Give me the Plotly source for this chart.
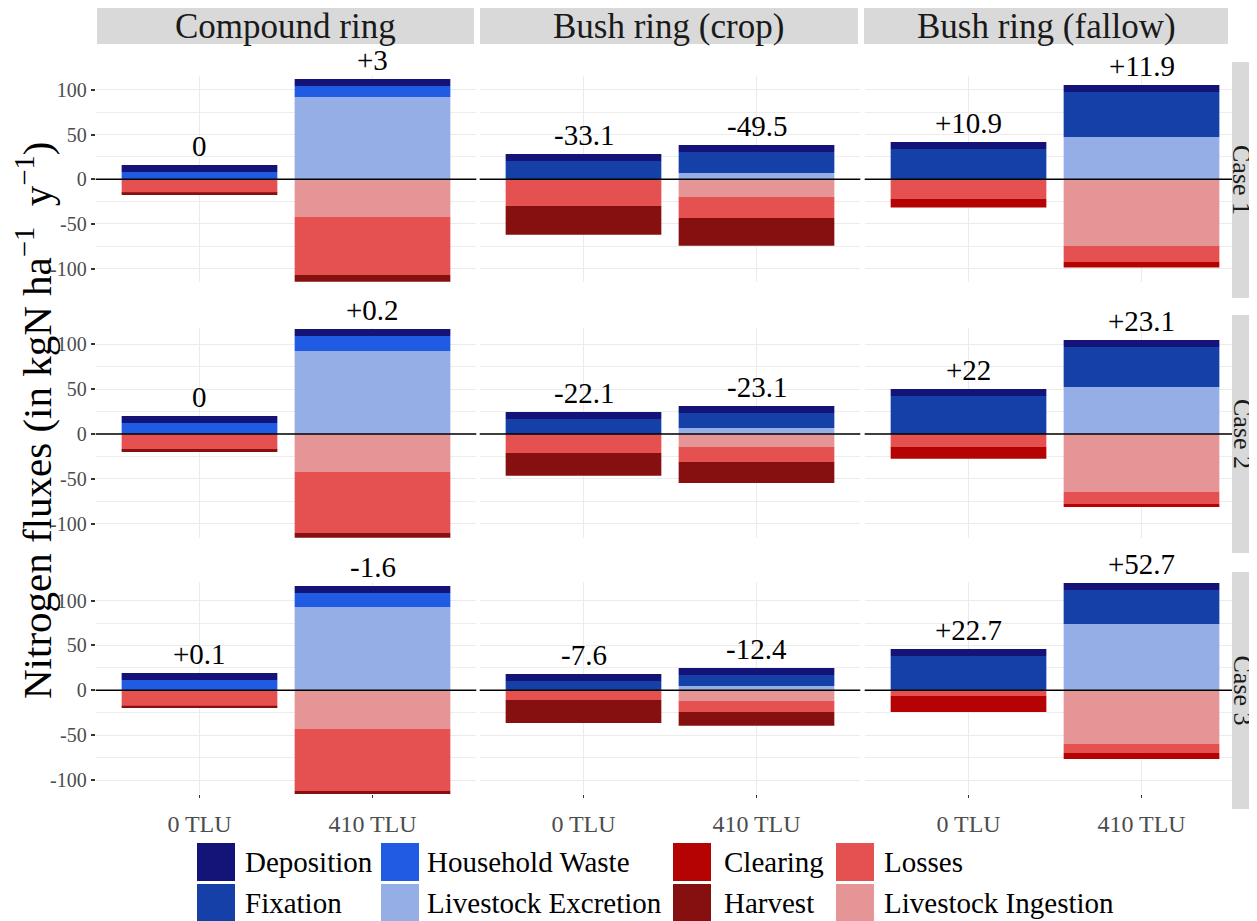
import plotly.graph_objects as go
from plotly.subplots import make_subplots

PAGE_W, PAGE_H = 1257, 921
OFF = 8  # browser body margin
W, H = PAGE_W - OFF, PAGE_H - OFF
FONT = "Liberation Serif"

cases = ["Case 1", "Case 2", "Case 3"]
rings = ["Compound ring", "Bush ring (crop)", "Bush ring (fallow)"]
tlu = ["0 TLU", "410 TLU"]

# values[case][ring] = [0 TLU, 410 TLU]  (kgN ha-1 y-1)
deposition = [
    [[7.8, 7.8], [7.8, 7.8], [7.8, 7.8]],
    [[7.8, 7.8], [7.8, 7.8], [7.8, 7.8]],
    [[7.8, 7.8], [7.8, 7.8], [7.8, 7.8]],
]
fixation = [
    [[0, 0], [20.5, 23.5], [34.0, 50.4]],
    [[0, 0], [16.7, 16.7], [42.3, 44.5]],
    [[0, 0], [10.4, 12.3], [38.3, 37.9]],
]
household_waste = [
    [[8.2, 12.3], [0, 0], [0, 0]],
    [[12.2, 16.7], [0, 0], [0, 0]],
    [[11.5, 15.6], [0, 0], [0, 0]],
]
livestock_excretion = [
    [[0, 92.2], [0, 7.1], [0, 47.4]],
    [[0, 92.4], [0, 6.7], [0, 52.3]],
    [[0, 92.9], [0, 4.8], [0, 74.0]],
]
livestock_ingestion = [
    [[0, -42.2], [0, -19.8], [0, -74.6]],
    [[0, -42.3], [0, -14.5], [0, -64.6]],
    [[0, -43.1], [0, -11.9], [0, -59.8]],
]
losses = [
    [[-15.3, -65.0], [-29.9, -23.5], [-22.0, -17.9]],
    [[-17.8, -67.9], [-21.2, -16.7], [-14.5, -13.4]],
    [[-17.5, -69.1], [-10.8, -12.3], [-6.3, -10.0]],
]
harvest = [
    [[-2.2, -7.5], [-32.1, -31.0], [0, 0]],
    [[-2.2, -7.8], [-25.2, -23.4], [0, 0]],
    [[-2.2, -7.8], [-25.6, -15.2], [0, 0]],
]
clearing = [
    [[0, 0], [0, 0], [-9.7, -6.3]],
    [[0, 0], [0, 0], [-13.0, -3.3]],
    [[0, 0], [0, 0], [-17.8, -6.7]],
]
balance_labels = [
    [["0", "+3"], ["-33.1", "-49.5"], ["+10.9", "+11.9"]],
    [["0", "+0.2"], ["-22.1", "-23.1"], ["+22", "+23.1"]],
    [["+0.1", "-1.6"], ["-7.6", "-12.4"], ["+22.7", "+52.7"]],
]

# stacking order: first trace sits next to zero
flux_series = [
    ("Livestock Excretion", livestock_excretion, "#95aee5"),
    ("Household Waste", household_waste, "#1f5be3"),
    ("Fixation", fixation, "#1440a8"),
    ("Deposition", deposition, "#141478"),
    ("Livestock Ingestion", livestock_ingestion, "#e59595"),
    ("Losses", losses, "#e55151"),
    ("Harvest", harvest, "#860f10"),
    ("Clearing", clearing, "#b50303"),
]
colors = {n: c for n, _, c in flux_series}
legend_cols = [["Deposition", "Fixation"],
               ["Household Waste", "Livestock Excretion"],
               ["Clearing", "Harvest"],
               ["Losses", "Livestock Ingestion"]]


def px_x(p):
    return (p - OFF) / W


def px_y(p):
    return 1 - (p - OFF) / H


# ---- geometry (page pixels) ----
col_px = [(95.7, 476.3), (479.7, 860.3), (864.7, 1232.0)]
col_range = [[-0.6, 1.6], [-0.6, 1.6], [-0.6, 1.523]]
row_zero = [179.3, 434.0, 690.3]
row_scale = [0.893, 0.898, 0.897]
row_top = [115.5, 118.0, 121.0]
row_bot = -115.5

fig = make_subplots(rows=3, cols=3)

for r in range(3):
    for c in range(3):
        for name, vals, col in flux_series:
            fig.add_trace(go.Bar(
                x=tlu, y=vals[r][c], name=name, marker=dict(color=col, line=dict(width=0)),
                width=0.9, showlegend=False, hoverinfo="name+y",
            ), row=r + 1, col=c + 1)
        idx = r * 3 + c + 1
        xref = "x" if idx == 1 else f"x{idx}"
        yref = "y" if idx == 1 else f"y{idx}"
        for k in range(2):
            top = sum(v[r][c][k] for _, v, _ in flux_series if v[r][c][k] > 0)
            fig.add_annotation(x=tlu[k], y=top, xref=xref, yref=yref, text=balance_labels[r][c][k],
                               showarrow=False, yanchor="bottom", yshift=1,
                               font=dict(family=FONT, size=29, color="black"))
        # zero line on top of bars
        fig.add_shape(type="line", xref=f"{xref} domain", yref=yref, x0=0, x1=1, y0=0, y1=0,
                      line=dict(color="black", width=1.6), layer="above")

for r in range(3):
    for c in range(3):
        idx = r * 3 + c + 1
        sfx = "" if idx == 1 else str(idx)
        x0, x1 = col_px[c]
        ytop = row_zero[r] - row_top[r] * row_scale[r]
        ybot = row_zero[r] - row_bot * row_scale[r]
        fig.layout["xaxis" + sfx].update(
            domain=[px_x(x0), px_x(x1)], range=col_range[c], type="category",
            showgrid=True, gridcolor="#ebebeb", gridwidth=1.3, zeroline=False,
            showline=False, showticklabels=(r == 2),
            ticks="outside" if r == 2 else "", ticklen=3, tickwidth=1.2, tickcolor="#333333",
            ticklabelstandoff=5,
            tickfont=dict(family=FONT, size=24, color="#4d4d4d"),
            fixedrange=True,
        )
        fig.layout["yaxis" + sfx].update(
            domain=[px_y(ybot), px_y(ytop)], range=[row_bot, row_top[r]],
            tickmode="array", tickvals=[-100, -50, 0, 50, 100],
            ticktext=["-100", "-50", "0", "50", "100"],
            showgrid=True, gridcolor="#ebebeb", gridwidth=1.3, zeroline=False,
            minor=dict(tickmode="array", tickvals=[-75, -25, 25, 75], showgrid=True,
                       gridcolor="#ededed", gridwidth=0.9),
            showline=False, showticklabels=(c == 0),
            ticks="outside" if c == 0 else "", ticklen=4, tickwidth=1.5, tickcolor="#333333",
            tickfont=dict(family=FONT, size=20, color="#4d4d4d"),
            fixedrange=True,
        )

# ---- facet strips ----
strip_top_px = [(97, 474), (480, 858), (864, 1228)]
for c, (a, b) in enumerate(strip_top_px):
    fig.add_shape(type="rect", xref="paper", yref="paper", x0=px_x(a), x1=px_x(b),
                  y0=px_y(44), y1=1.0, fillcolor="#d9d9d9", line=dict(width=0), layer="below")
    fig.add_annotation(xref="paper", yref="paper", x=px_x((a + b) / 2), y=px_y(27), text=rings[c],
                       showarrow=False, xanchor="center", yanchor="middle",
                       font=dict(family=FONT, size=35, color="#1a1a1a"))
strip_right_px = [(62, 298), (315, 553), (572, 809)]
for r, (a, b) in enumerate(strip_right_px):
    fig.add_shape(type="rect", xref="paper", yref="paper", x0=px_x(1232), x1=1.0,
                  y0=px_y(b), y1=px_y(a), fillcolor="#d9d9d9", line=dict(width=0), layer="below")
    fig.add_annotation(xref="paper", yref="paper", x=px_x(1242), y=px_y((a + b) / 2), text=cases[r],
                       showarrow=False, textangle=90, xanchor="center", yanchor="middle",
                       font=dict(family=FONT, size=26, color="#1a1a1a"))

# ---- y axis title ----
fig.add_annotation(xref="paper", yref="paper", x=px_x(34), y=px_y(420),
                   text="Nitrogen fluxes (in kgN ha<sup>\u22121</sup>  y<sup>\u22121</sup>)",
                   showarrow=False, textangle=-90, xanchor="center", yanchor="middle",
                   font=dict(family=FONT, size=41, color="black"))

# ---- legend (drawn) ----
key_x = [197, 381, 673, 836]
text_x = [243, 425, 722, 882]
key_rows = [(843, 881), (884, 921)]
for j, names in enumerate(legend_cols):
    for i, name in enumerate(names):
        ya, yb = key_rows[i]
        fig.add_shape(type="rect", xref="paper", yref="paper", x0=px_x(key_x[j]), x1=px_x(key_x[j] + 38),
                      y0=px_y(yb), y1=px_y(ya), fillcolor=colors[name], line=dict(width=0))
        fig.add_annotation(xref="paper", yref="paper", x=px_x(text_x[j]), y=px_y((ya + yb) / 2),
                           text=name, showarrow=False, xanchor="left", yanchor="middle",
                           font=dict(family=FONT, size=29, color="black"))

fig.update_layout(
    width=W, height=H, barmode="relative", bargap=0.1,
    margin=dict(l=0, r=0, t=0, b=0),
    paper_bgcolor="white", plot_bgcolor="white",
    font=dict(family=FONT),
    showlegend=False,
)

fig.write_html("out.html")
